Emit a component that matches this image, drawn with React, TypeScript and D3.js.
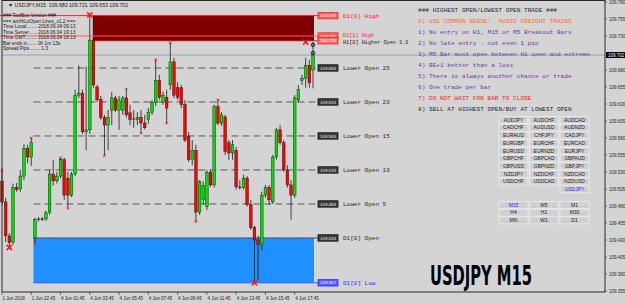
import React from 'react';
import * as d3 from 'd3';

const W = 625;
const H = 303;

// M15 candles, USDJPY (oldest first)
const opens = [109.516,109.486,109.436,109.427,109.507,109.505,109.524,109.565,109.552,109.433,
109.460,109.461,109.461,109.470,109.527,109.517,109.524,109.548,109.521,109.496,
109.527,109.643,109.646,109.589,109.592,109.724,109.655,109.637,109.610,109.599,
109.621,109.639,109.621,109.621,109.639,109.617,109.607,109.607,109.610,109.602,
109.607,109.618,109.632,109.665,109.632,109.640,109.658,109.692,109.654,109.654,
109.629,109.582,109.548,109.562,109.471,109.489,109.479,109.529,109.511,109.626,
109.602,109.611,109.573,109.558,109.562,109.508,109.507,109.521,109.482,109.448,
109.430,109.423,109.496,109.507,109.486,109.552,109.592,109.573,109.533,109.511,
109.496,109.636,109.665,109.668,109.687,109.680];
const highs = [109.533,109.492,109.440,109.513,109.514,109.533,109.571,109.570,109.580,109.463,
109.464,109.464,109.473,109.533,109.548,109.530,109.552,109.551,109.530,109.530,
109.651,109.687,109.651,109.685,109.761,109.727,109.658,109.642,109.614,109.621,
109.648,109.642,109.642,109.642,109.652,109.629,109.621,109.618,109.621,109.614,
109.624,109.636,109.695,109.673,109.648,109.651,109.720,109.698,109.662,109.658,
109.636,109.589,109.577,109.570,109.518,109.516,109.533,109.533,109.629,109.636,
109.618,109.614,109.577,109.577,109.567,109.518,109.526,109.524,109.489,109.451,
109.436,109.501,109.511,109.511,109.555,109.595,109.599,109.577,109.540,109.518,
109.643,109.658,109.673,109.698,109.695,109.721];
const lows = [109.482,109.427,109.418,109.423,109.501,109.501,109.518,109.543,109.539,109.426,
109.457,109.458,109.458,109.467,109.510,109.513,109.521,109.489,109.479,109.493,
109.524,109.639,109.586,109.562,109.586,109.654,109.633,109.607,109.555,109.562,
109.599,109.618,109.592,109.614,109.610,109.599,109.595,109.599,109.589,109.593,
109.601,109.614,109.627,109.636,109.629,109.602,109.651,109.639,109.636,109.624,
109.574,109.545,109.540,109.457,109.467,109.482,109.474,109.508,109.507,109.599,
109.598,109.555,109.548,109.548,109.504,109.504,109.504,109.479,109.445,109.367,
109.371,109.415,109.492,109.482,109.483,109.548,109.570,109.530,109.507,109.460,
109.492,109.632,109.658,109.654,109.654,109.653];
const closes = [109.486,109.436,109.426,109.507,109.504,109.524,109.565,109.552,109.574,109.460,
109.461,109.460,109.470,109.527,109.517,109.524,109.548,109.496,109.496,109.527,
109.643,109.646,109.589,109.592,109.724,109.658,109.636,109.610,109.599,109.610,
109.639,109.621,109.636,109.639,109.614,109.607,109.608,109.610,109.602,109.595,
109.618,109.632,109.665,109.640,109.643,109.624,109.692,109.643,109.640,109.629,
109.577,109.548,109.562,109.471,109.516,109.510,109.529,109.511,109.626,109.602,
109.614,109.560,109.558,109.570,109.508,109.507,109.521,109.482,109.448,109.430,
109.423,109.496,109.507,109.489,109.552,109.592,109.573,109.533,109.511,109.496,
109.639,109.651,109.668,109.687,109.661,109.702];

// fractal / extreme markers
const markerBars = [0, 8, 2, 9, 16, 18, 24, 28, 34, 38, 42, 45, 46, 53, 59, 69, 83];
const markerPrices = [109.533,109.580,109.419,109.424,109.551,109.477,109.761,109.554,109.652,109.587,109.695,109.602,109.720,109.457,109.636,109.367,109.721];
const markerBig = [false,false,true,false,false,false,true,false,false,false,false,false,false,false,false,true,true];

const timeLabelBars = [0, 8, 16, 24, 32, 40, 48, 56, 64, 72, 80];
const timeLabels = ['1 Jun 2018','1 Jun 22:45','4 Jun 01:45','4 Jun 03:45','4 Jun 05:45','4 Jun 07:45','4 Jun 09:45','4 Jun 11:45','4 Jun 13:45','4 Jun 15:45','4 Jun 17:45'];

const priceTicks = [109.780,109.755,109.730,109.680,109.655,109.630,109.605,109.580,109.555,109.530,109.505,109.480,109.455,109.430,109.405,109.380,109.355];
const bid = 109.702;

const levelNames = ['Lower Open 25','Lower Open 20','Lower Open 15','Lower Open 10','Lower Open 5'];
const levelPrices = [109.683, 109.633, 109.583, 109.533, 109.483];

const d1High = 109.760;
const d1PrevHigh = 109.730;
const h1HigherOpen = 109.723;
const d1Open = 109.433;
const d1Low = 109.367;
const alertDots = [109.717, 109.705];

const title = '\u25BC USDJPY,M15  109.680 109.721 109.653 109.702';
const infoLines = [
  '### ToolBox Version ###',
  '=== amHiLoOpen Lines_v1.2 ===',
  'Time Local........ 2018.06.04 09:13',
  'Time Server...... 2018.06.04 19:13',
  'Time GMT......... 2018.06.04 16:13',
  'Bar ends in....... 0h 1m 13s',
  'Spread Pips........ 1.3',
];

const rules = [
  '### HIGHEST OPEN/LOWEST OPEN TRADE ###',
  '0) USE COMMON SENSE!  AVOID FREIGHT TRAINS',
  '1) No entry on H1, M15 or M5 Breakout Bars',
  '2) No late entry - not even 1 pip',
  '3) M5 Bar must open between H1 open and extreme',
  '4) BE+1 better than a loss',
  '5) There is always another chance or trade',
  '6) One trade per bar',
  '7) DO NOT WAIT FOR BAR TO CLOSE',
  '8) SELL AT HIGHEST OPEN/BUY AT LOWEST OPEN',
];
const ruleColors = ['#2a2a2a','#ff6a1a','#6a3aa8','#6a3aa8','#6a3aa8','#6a3aa8','#6a3aa8','#6a3aa8','#ff1a1a','#2a2a2a'];

const pairs = [
  'AUDJPY','AUDCHF','AUDCAD',
  'CADCHF','AUDUSD','AUDNZD',
  'EURAUD','CHFJPY','CADJPY',
  'EURGBP','EURCHF','EURCAD',
  'EURUSD','EURNZD','EURJPY',
  'GBPCHF','GBPCAD','GBPAUD',
  'GBPUSD','GBPNZD','GBPJPY',
  'NZDJPY','NZDCHF','NZDCAD',
  'USDCHF','USDCAD','NZDUSD',
  '','','USDJPY',
];
const timeframes = ['M15','M5','M1','H4','H1','M30','MN','W1','D1'];

export default function App() {
  const x = d3.scaleLinear().domain([0, 85]).range([2, 313]);
  const y = d3.scaleLinear().domain([109.355, 109.78]).range([291, 2]);
  const bg = '#d4d4d4';
  const mono = "'Liberation Mono', 'DejaVu Sans Mono', monospace";
  const sans = "'Liberation Sans', Arial, sans-serif";

  const labelBox = (price: number, txt: string, fill: string, stroke: string, color: string, key: string) => (
    <g key={key}>
      <rect x={318} y={y(price) - 3.2} width={20} height={6.4} fill={fill} stroke={stroke} strokeWidth={0.8} />
      <text x={328} y={y(price)} dy="0.35em" textAnchor="middle" fontFamily={sans} fontSize={4.4} fill={color}>{txt}</text>
    </g>
  );

  const colX = [499, 529.5, 560];
  return (
    <svg width={W} height={H} style={{ position: 'absolute', left: 0, top: 0, background: bg }}>
      <rect x={0} y={0} width={W} height={H} fill={bg} />

      {/* red D1 high zone */}
      <rect x={x(24.8)} y={y(d1High)} width={x(85) + 1 - x(24.8)} height={y(h1HigherOpen) - y(d1High)} fill="#800000" />
      <line x1={0} x2={318} y1={y(d1High)} y2={y(d1High)} stroke="#ff2020" strokeWidth={1} />
      <line x1={0} x2={318} y1={y(d1PrevHigh)} y2={y(d1PrevHigh)} stroke="#ff5a5a" strokeWidth={1} />
      <line x1={x(24.8)} x2={318} y1={y(h1HigherOpen)} y2={y(h1HigherOpen)} stroke="#c01010" strokeWidth={0.8} />

      {/* blue D1 open/low zone */}
      <rect x={x(8.6)} y={y(d1Open)} width={x(85) + 1 - x(8.6)} height={y(d1Low) - y(d1Open)} fill="#1e90ff" />
      <line x1={x(8.6)} x2={318} y1={y(d1Open)} y2={y(d1Open)} stroke="#3a4a6a" strokeWidth={0.9} />
      <line x1={x(8.6)} x2={318} y1={y(d1Low)} y2={y(d1Low)} stroke="#3a5aff" strokeWidth={1} />

      {/* lower open dashed levels */}
      {levelPrices.map((p, k) => (
        <line key={'lv' + k} x1={x(8.6)} x2={318} y1={y(p)} y2={y(p)} stroke="#4a4a4a" strokeWidth={0.9} strokeDasharray="7,4" />
      ))}

      {/* bid line */}
      <line x1={2} x2={605} y1={y(bid)} y2={y(bid)} stroke="#8796a4" strokeWidth={0.8} />

      {/* candles */}
      {opens.map((o, i) => {
        const c = closes[i];
        const up = c >= o;
        const top = y(Math.max(o, c));
        const h = Math.max(0.8, Math.abs(y(o) - y(c)));
        const cx = x(i);
        return (
          <g key={'c' + i}>
            <line x1={cx} x2={cx} y1={y(highs[i])} y2={y(lows[i])} stroke="#1c1c1c" strokeWidth={0.8} />
            <rect x={cx - 1.35} y={top} width={2.7} height={h} fill={up ? '#00e000' : '#ff0000'} stroke="#111" strokeWidth={0.4} />
          </g>
        );
      })}

      {/* markers */}
      {markerBars.map((b, k) => {
        const cx = x(b);
        const cy = y(markerPrices[k]);
        const s = markerBig[k] ? 2.6 : 1.3;
        const sw = markerBig[k] ? 1.6 : 1;
        return (
          <g key={'m' + k} stroke="#ff1a1a" strokeWidth={sw}>
            <line x1={cx - s} x2={cx + s} y1={cy - s} y2={cy + s} />
            <line x1={cx - s} x2={cx + s} y1={cy + s} y2={cy - s} />
          </g>
        );
      })}

      {/* alert dots on current bar */}
      {alertDots.map((p, k) => (
        <circle key={'ad' + k} cx={x(85)} cy={y(p)} r={1.8} fill="#666" stroke="#111" strokeWidth={0.7} />
      ))}

      {/* level labels */}
      {labelBox(d1High, '109.759', '#ff6060', '#ff2020', '#fff', 'lb1')}
      {labelBox(d1PrevHigh, '109.730', '#ff6060', '#ff2020', '#fff', 'lb2')}
      {labelBox(h1HigherOpen, '109.723', '#ff7070', '#e02020', '#fff', 'lb3')}
      {levelPrices.map((p, k) => labelBox(p, p.toFixed(3), '#3c3c3c', '#111', '#e8e8e8', 'lbl' + k))}
      {labelBox(d1Open, d1Open.toFixed(3), '#3c3c3c', '#111', '#e8e8e8', 'lbo')}
      {labelBox(d1Low, d1Low.toFixed(3), '#5a5aff', '#3030ff', '#fff', 'lbw')}

      <g fontFamily={mono} fontSize={6}>
        <text x={343} y={y(d1High)} dy="0.35em" fill="#ff2020">D1(0) High</text>
        <text x={343} y={y(d1PrevHigh) - 0.8} dy="0.35em" fontSize={5.2} fill="#ff2020">D1[1] High</text>
        <text x={343} y={y(h1HigherOpen) + 1.6} dy="0.35em" fontSize={5.2} fill="#3a2020">H1[0] Higher Open 3.6</text>
        {levelNames.map((n, k) => (
          <text key={'ln' + k} x={343} y={y(levelPrices[k])} dy="0.35em" fill="#2a2a2a">{n}</text>
        ))}
        <text x={343} y={y(d1Open)} dy="0.35em" fill="#2a2a2a">D1[0] Open</text>
        <text x={343} y={y(d1Low)} dy="0.35em" fill="#3030ff">D1[0] Low</text>
      </g>

      {/* rules text */}
      <g fontFamily={mono} fontSize={6.1}>
        {rules.map((r, k) => (
          <text key={'r' + k} x={418} y={9.5 + 11 * k} dy="0.35em" fill={ruleColors[k]} style={{ whiteSpace: 'pre' }}>{r}</text>
        ))}
      </g>

      {/* pair buttons */}
      {pairs.map((p, k) => {
        if (!p) return null;
        const col = k % 3;
        const row = Math.floor(k / 3);
        const cy = 120 + 7.7 * row;
        return (
          <g key={'p' + k}>
            <rect x={colX[col]} y={cy - 3.5} width={29} height={7} fill="#d0d0d0" stroke="#ececec" strokeWidth={0.8} />
            <text x={colX[col] + 14.5} y={cy} dy="0.35em" textAnchor="middle" fontFamily={sans} fontSize={5} fill={p === 'USDJPY' ? '#2a2aff' : '#222'}>{p}</text>
          </g>
        );
      })}
      {timeframes.map((t, k) => {
        const col = k % 3;
        const row = Math.floor(k / 3);
        const cy = 205 + 7.7 * row;
        return (
          <g key={'tf' + k}>
            <rect x={colX[col]} y={cy - 3.5} width={29} height={7} fill="#d0d0d0" stroke="#ececec" strokeWidth={0.8} />
            <text x={colX[col] + 14.5} y={cy} dy="0.35em" textAnchor="middle" fontFamily={sans} fontSize={5} fill={t === 'M15' ? '#2a2aff' : '#222'}>{t}</text>
          </g>
        );
      })}

      {/* big symbol label */}
      <text x={430} y={285} fontFamily="'Liberation Sans Narrow', 'DejaVu Sans Condensed', 'Arial Narrow', sans-serif" fontWeight="bold" fontSize={26} textLength={102} lengthAdjust="spacingAndGlyphs" fill="#000">USDJPY M15</text>

      {/* info text */}
      <g fontFamily={sans} fontSize={4.8} fill="#1a1a1a">
        <text x={8} y={5} dy="0.35em" fontSize={5.2} style={{ whiteSpace: 'pre' }}>{title}</text>
        {infoLines.map((t, k) => (
          <text key={'i' + k} x={3} y={15.7 + 5.5 * k} dy="0.35em">{t}</text>
        ))}
      </g>

      {/* frame */}
      <rect x={2} y={0.5} width={603} height={291.5} fill="none" stroke="#2a2a2a" strokeWidth={1} />

      {/* price axis */}
      <g fontFamily={sans} fontSize={4.5} fill="#222">
        {priceTicks.map((p, k) => (
          <g key={'pt' + k}>
            <line x1={605} x2={607} y1={y(p)} y2={y(p)} stroke="#222" strokeWidth={0.6} />
            <text x={609} y={y(p)} dy="0.35em">{p.toFixed(3)}</text>
          </g>
        ))}
      </g>
      <rect x={606} y={y(bid) - 3} width={19} height={6} fill="#000" />
      <text x={608} y={y(bid)} dy="0.35em" fontFamily={sans} fontSize={4.5} fill="#fff">{bid.toFixed(3)}</text>

      {/* time axis */}
      <g fontFamily={sans} fontSize={4.5} fill="#222">
        {timeLabelBars.map((b, k) => (
          <g key={'tl' + k}>
            <line x1={x(b)} x2={x(b)} y1={292} y2={295} stroke="#222" strokeWidth={0.6} />
            <text x={x(b) + 0.5} y={298} dy="0.35em">{timeLabels[k]}</text>
          </g>
        ))}
      </g>
    </svg>
  );
}
